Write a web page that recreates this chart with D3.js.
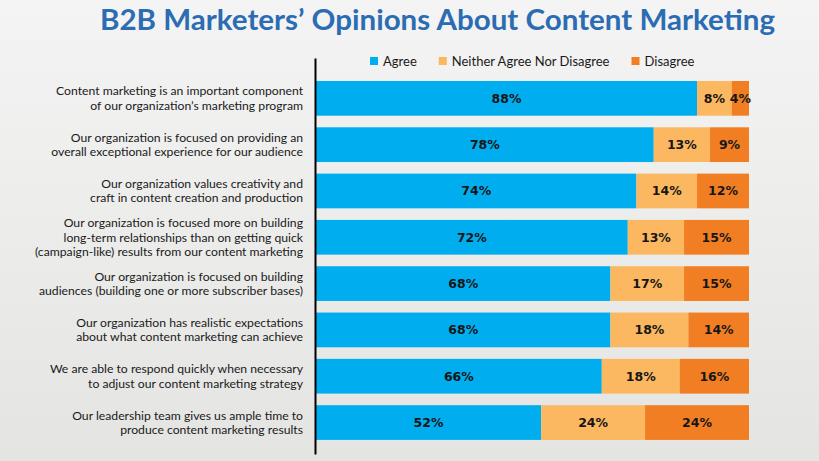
<!DOCTYPE html>
<html>
<head>
<meta charset="utf-8">
<script src="https://cdn.jsdelivr.net/npm/d3@7/dist/d3.min.js"></script>
<style>
  html, body { margin: 0; padding: 0; }
  body { width: 819px; height: 461px; overflow: hidden; }
</style>
</head>
<body>
<svg id="chart" width="819" height="461"></svg>
<script>
const title = "B2B Marketers’ Opinions About Content Marketing";
const categories = [
  ["Content marketing is an important component", "of our organization’s marketing program"],
  ["Our organization is focused on providing an", "overall exceptional experience for our audience"],
  ["Our organization values creativity and", "craft in content creation and production"],
  ["Our organization is focused more on building", "long-term relationships than on getting quick", "(campaign-like) results from our content marketing"],
  ["Our organization is focused on building", "audiences (building one or more subscriber bases)"],
  ["Our organization has realistic expectations", "about what content marketing can achieve"],
  ["We are able to respond quickly when necessary", "to adjust our content marketing strategy"],
  ["Our leadership team gives us ample time to", "produce content marketing results"]
];
const seriesNames = ["Agree", "Neither Agree Nor Disagree", "Disagree"];
const agree    = [88, 78, 74, 72, 68, 68, 66, 52];
const neither  = [8, 13, 14, 13, 17, 18, 18, 24];
const disagree = [4, 9, 12, 15, 15, 14, 16, 24];
const colors = ["#00aeef", "#fbb860", "#f17e22"];

const svg = d3.select("#chart");
const W = 819, H = 461;

// background gradient
const defs = svg.append("defs");
const grad = defs.append("linearGradient").attr("id", "bg").attr("x1", 0).attr("y1", 0).attr("x2", 0).attr("y2", 1);
grad.append("stop").attr("offset", "0%").attr("stop-color", "#f4f4f4");
grad.append("stop").attr("offset", "100%").attr("stop-color", "#e4e4e2");
svg.append("rect").attr("width", W).attr("height", H).attr("fill", "url(#bg)");

// title
svg.append("text")
  .attr("x", 100).attr("y", 29.5)
  .attr("font-family", "Lato, sans-serif")
  .attr("font-weight", 700)
  .attr("font-size", 29)
  .attr("fill", "#2b6cb2")
  .attr("textLength", 675)
  .attr("lengthAdjust", "spacingAndGlyphs")
  .text(title);

// scales
const idx = d3.range(categories.length);
const y = d3.scaleBand().domain(idx).range([58, 454]).paddingInner(0.25).paddingOuter(0.4).align(0.62);
const x = d3.scaleLinear().domain([0, 100]).range([316, 749]);

const data = idx.map(i => ({ i, Agree: agree[i], Neither: neither[i], Disagree: disagree[i] }));
const stack = d3.stack().keys(["Agree", "Neither", "Disagree"]);
const layers = stack(data);

const g = svg.append("g");
layers.forEach((layer, li) => {
  const lg = g.append("g").attr("fill", colors[li]);
  lg.selectAll("rect").data(layer).join("rect")
    .attr("x", d => x(d[0]))
    .attr("y", d => y(d.data.i))
    .attr("width", d => x(d[1]) - x(d[0]))
    .attr("height", y.bandwidth());
  lg.selectAll("text").data(layer).join("text")
    .attr("x", d => (x(d[0]) + x(d[1])) / 2)
    .attr("y", d => y(d.data.i) + y.bandwidth() / 2)
    .attr("dy", "0.36em")
    .attr("text-anchor", "middle")
    .attr("font-family", "'DejaVu Sans', sans-serif")
    .attr("font-weight", 700)
    .attr("font-size", 12.5)
    .attr("fill", "#161616")
    .text(d => (d[1] - d[0]) + "%");
});

// axis line
const axis = d3.axisLeft(y).tickSize(0).tickSizeOuter(0).tickFormat("");
const ax = svg.append("g").attr("transform", "translate(315,0)").call(axis);
ax.select(".domain").attr("stroke", "#000").attr("stroke-width", 2);

// category labels
const lineH = 14.3;
const lab = svg.append("g")
  .attr("font-family", "Lato, sans-serif")
  .attr("font-size", 12.2)
  .attr("fill", "#1a1a1a")
  .attr("text-anchor", "end");
categories.forEach((lines, i) => {
  const cy = y(i) + y.bandwidth() / 2;
  const t = lab.append("text").attr("x", 303).attr("y", cy);
  lines.forEach((ln, j) => {
    t.append("tspan").attr("x", 303)
      .attr("y", cy + (j - (lines.length - 1) / 2) * lineH)
      .attr("dy", "0.35em")
      .text(ln);
  });
});

// legend
const leg = svg.append("g");
let lx = 370;
seriesNames.forEach((name, i) => {
  leg.append("rect").attr("x", lx).attr("y", 57).attr("width", 8).attr("height", 8).attr("fill", colors[i]);
  const t = leg.append("text").attr("x", lx + 13).attr("y", 65.5)
    .attr("font-family", "Lato, sans-serif").attr("font-size", 13).attr("fill", "#1a1a1a")
    .text(name);
  lx = lx + 13 + t.node().getComputedTextLength() + 22;
});
</script>
</body>
</html>
